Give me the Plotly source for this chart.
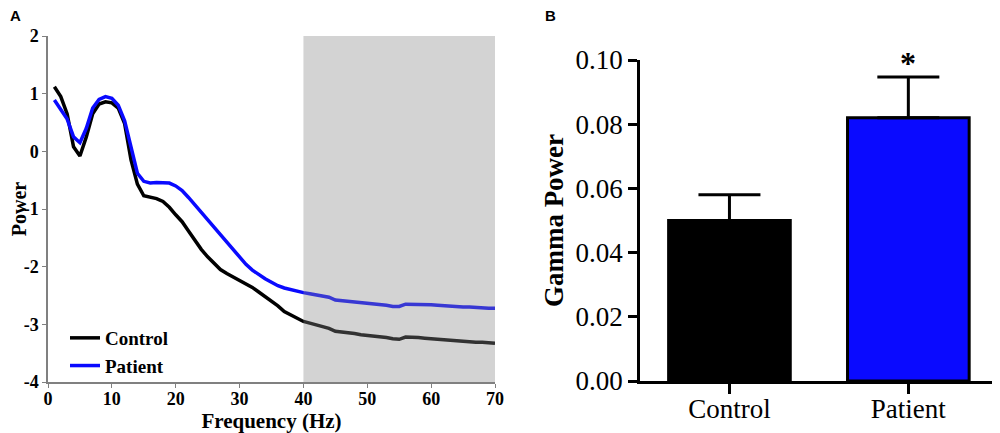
import plotly.graph_objects as go

# Panel A: power spectrum (1 Hz steps)
freq = list(range(1, 71))
control_power = [
    1.12, 0.95, 0.65, 0.08, -0.08, 0.25, 0.65, 0.82, 0.86, 0.84,
    0.75, 0.48, -0.15, -0.57, -0.77, -0.80, -0.82, -0.87, -0.97, -1.10,
    -1.22, -1.38, -1.55, -1.70, -1.83, -1.94, -2.05, -2.12, -2.18, -2.24,
    -2.30, -2.36, -2.44, -2.52, -2.60, -2.68, -2.78, -2.84, -2.89, -2.95,
    -2.98, -3.01, -3.04, -3.07, -3.12, -3.13, -3.15, -3.16, -3.18, -3.19,
    -3.20, -3.21, -3.23, -3.25, -3.26, -3.22, -3.22, -3.23, -3.24, -3.25,
    -3.26, -3.27, -3.28, -3.29, -3.30, -3.30, -3.31, -3.31, -3.32, -3.33,
]
patient_power = [
    0.89, 0.72, 0.56, 0.25, 0.15, 0.40, 0.75, 0.90, 0.95, 0.92,
    0.80, 0.53, 0.05, -0.38, -0.52, -0.55, -0.54, -0.54, -0.55, -0.60,
    -0.68, -0.80, -0.93, -1.06, -1.20, -1.32, -1.46, -1.59, -1.72, -1.85,
    -1.96, -2.06, -2.14, -2.21, -2.27, -2.33, -2.37, -2.40, -2.43, -2.45,
    -2.47, -2.49, -2.51, -2.53, -2.58, -2.59, -2.61, -2.62, -2.63, -2.63,
    -2.65, -2.66, -2.67, -2.69, -2.69, -2.65, -2.65, -2.66, -2.66, -2.66,
    -2.67, -2.68, -2.69, -2.70, -2.70, -2.70, -2.71, -2.72, -2.72, -2.72,
]
gamma_band = [40, 70]
power_ticks = [-4, -3, -2, -1, 0, 1, 2]
power_labels = ["-4", "-3", "-2", "-1", "0", "1", "2"]

# Panel B: mean gamma power
groups = ["Control", "Patient"]
gamma_mean = [0.050, 0.082]
gamma_sem = [0.008, 0.0127]

SERIF = "Liberation Serif"
BLUE = "#0a0aff"

# the page body has an 8px margin, so size the figure to fit inside 1000x433
W, H, OFF = 992, 425, 8
def xdom(a, b):
    return [(a - OFF) / W, (b - OFF) / W]
def ydom(top, bottom):
    return [1 - (bottom - OFF) / H, 1 - (top - OFF) / H]

fig = go.Figure()

fig.add_trace(go.Scatter(x=freq, y=control_power, mode="lines", name="Control",
                         line=dict(color="black", width=3.5), xaxis="x", yaxis="y"))
fig.add_trace(go.Scatter(x=freq, y=patient_power, mode="lines", name="Patient",
                         line=dict(color=BLUE, width=3.5), xaxis="x", yaxis="y"))

fig.add_trace(go.Bar(
    x=groups, y=gamma_mean, width=0.68,
    marker=dict(color=["black", BLUE], line=dict(color="black", width=3)),
    error_y=dict(type="data", symmetric=False, array=gamma_sem, arrayminus=[0, 0],
                 color="black", thickness=3, width=31),
    showlegend=False, xaxis="x2", yaxis="y2",
))

# shaded gamma band, drawn over the lines like the original
fig.add_shape(type="rect", xref="x", yref="y", x0=gamma_band[0], x1=gamma_band[1],
              y0=-4, y1=2, fillcolor="rgba(135,135,135,0.37)", line_width=0, layer="above")

fig.add_annotation(x="Patient", y=gamma_mean[1] + gamma_sem[1], xref="x2", yref="y2",
                   text="<b>*</b>", showarrow=False, yanchor="bottom", yshift=-6,
                   font=dict(family=SERIF, size=32, color="black"))

for txt, xp in [("A", 0.0), ("B", (543 - OFF) / W)]:
    fig.add_annotation(x=xp, y=1.0, xref="paper", yref="paper", text=f"<b>{txt}</b>",
                       showarrow=False, xanchor="left", yanchor="top", yshift=3,
                       font=dict(family="Liberation Sans", size=15, color="black"))

fig.update_layout(
    width=W, height=H,
    margin=dict(l=0, r=0, t=0, b=0, autoexpand=False),
    paper_bgcolor="white", plot_bgcolor="white",
    font=dict(family=SERIF, color="black"),
    xaxis=dict(domain=xdom(48, 495), anchor="y", range=[0, 70], dtick=10,
               automargin=False,
               showline=True, linecolor="#808080", linewidth=1.5, ticks="outside",
               ticklen=4, tickcolor="#808080", showgrid=False, zeroline=False,
               ticklabelstandoff=-4,
               tickfont=dict(family=SERIF, size=18, weight="bold"),
               title=dict(text="<b>Frequency (Hz)</b>", font=dict(family=SERIF, size=21), standoff=4)),
    yaxis=dict(domain=ydom(36, 382), anchor="x", range=[-4, 2],
               tickvals=power_ticks, ticktext=power_labels, automargin=False,
               showline=True, linecolor="#808080", linewidth=1.5, ticks="outside",
               ticklen=4, tickcolor="#808080", showgrid=False, zeroline=False,
               tickfont=dict(family=SERIF, size=18, weight="bold"),
               title=dict(text="<b>Power</b>", font=dict(family=SERIF, size=20), standoff=13)),
    xaxis2=dict(domain=xdom(640, 996), anchor="y2", range=[-0.5, 1.49], automargin=False,
                showline=True, linecolor="black", linewidth=2.5, ticks="outside",
                ticklen=10, tickwidth=2.5, tickcolor="black", showgrid=False,
                ticklabelstandoff=-8,
                tickfont=dict(family=SERIF, size=27)),
    yaxis2=dict(domain=ydom(60, 381), anchor="x2", range=[0, 0.1], dtick=0.02,
                tickformat=".2f", automargin=False, showline=True, linecolor="black", linewidth=2.5,
                ticks="outside", ticklen=9, tickwidth=2.5, tickcolor="black",
                showgrid=False, zeroline=False, tickfont=dict(family=SERIF, size=27),
                title=dict(text="<b>Gamma Power</b>", font=dict(family=SERIF, size=27), standoff=5)),
    legend=dict(x=(65 - OFF) / W, y=1 - (319 - OFF) / H, xanchor="left", yanchor="top",
                bgcolor="rgba(0,0,0,0)", font=dict(family=SERIF, size=19, weight="bold"),
                tracegroupgap=0, itemwidth=30),
)

fig.write_html("out.html")
